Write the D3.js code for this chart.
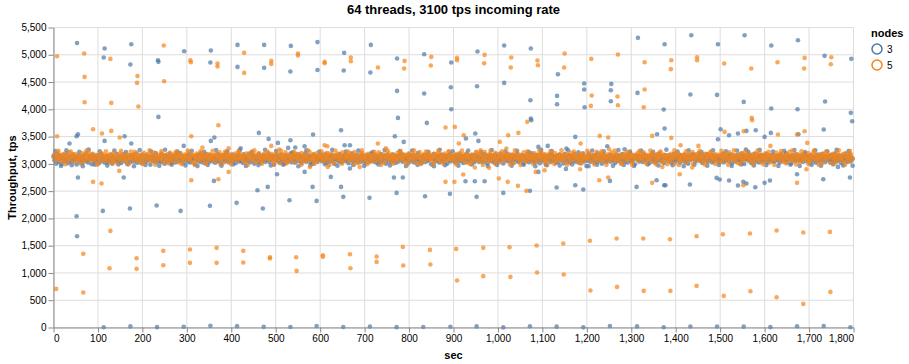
<!DOCTYPE html>
<html>
<head>
<meta charset="utf-8">
<script src="https://cdn.jsdelivr.net/npm/d3@7"></script>
<style>
  body { margin: 0; background: #fff; }
  text { font-family: "Liberation Sans", Arial, Helvetica, sans-serif; }
</style>
</head>
<body>
<div id="vis"></div>
<script>
const chartTitle = "64 threads, 3100 tps incoming rate";
const xTitle = "sec";
const yTitle = "Throughput, tps";
const legendTitle = "nodes";
const nodeNames = ["3", "5"];
const nodeColors = ["#4c78a8", "#f58518"];
const xTickValues = [0, 100, 200, 300, 400, 500, 600, 700, 800, 900, 1000, 1100, 1200, 1300, 1400, 1500, 1600, 1700, 1800];
const yTickValues = [0, 500, 1000, 1500, 2000, 2500, 3000, 3500, 4000, 4500, 5000, 5500];

// the dense band, one reading every 2 sec
const bandStep = 2;
const blueBand = [
  3142,3065,3118,3004,3176,3091,3037,3152,3110,2998,3083,3167,3049,3125,3071,3189,3012,3098,3140,3056,3117,3033,3174,3088,3061,3129,2987,3106,3158,3044,
  3092,3131,3018,3075,3163,3109,3052,3197,3068,3027,3146,3085,3114,2993,3172,3059,3101,3136,3040,3087,3155,3011,3123,3079,3183,3047,3096,3138,3020,3066,
  3150,3083,3029,3119,3071,3168,3005,3104,3134,3058,3092,3186,3038,3127,3063,3147,3015,3080,3112,3175,3049,3099,3136,2996,3073,3157,3031,3115,3088,3162,
  3045,3128,3076,3191,3022,3107,3061,3143,3097,3009,3171,3054,3132,3082,3039,3166,3101,3068,3124,2985,3093,3155,3047,3118,3077,3196,3028,3139,3086,3057,
  3113,3034,3178,3069,3126,3001,3152,3090,3043,3137,3074,3185,3018,3109,3063,3148,3096,3027,3169,3081,3120,3052,3193,3066,3103,3145,3010,3084,3131,3072,
  3159,3041,3099,3178,3024,3116,3067,3140,3089,2992,3133,3076,3162,3048,3105,3188,3035,3121,3070,3149,3012,3094,3173,3058,3111,3037,3164,3083,3127,3050,
  3087,3146,3021,3108,3069,3181,3044,3125,3097,3006,3158,3073,3134,3051,3199,3080,3116,3029,3143,3062,3100,3170,3039,3085,3153,3014,3122,3077,3166,3046,
  3135,3058,3104,3019,3174,3091,3133,3046,3117,3070,3189,3028,3098,3144,3063,3157,3003,3112,3079,3131,3053,3180,3093,3025,3139,3072,3110,3168,3041,3096,
  3064,3127,3183,3035,3101,3154,3072,3119,2989,3145,3082,3166,3047,3106,3131,3021,3177,3090,3056,3124,3008,3162,3075,3113,3049,3141,3087,3195,3031,3118,
  3160,3078,3026,3137,3092,3177,3054,3108,3149,3017,3085,3128,3066,3190,3043,3102,3159,3073,3119,3033,3147,3089,3005,3171,3061,3126,3097,3040,3153,3080,
  3108,3169,3049,3095,3134,3063,3186,3022,3116,3077,3142,3037,3101,3164,3058,3129,2997,3088,3155,3071,3120,3045,3179,3093,3030,3138,3067,3110,3172,3052,
  3083,3124,3013,3150,3071,3107,3192,3047,3132,3061,3098,3167,3025,3114,3079,3145,3038,3170,3091,3056,3127,3009,3103,3158,3068,3135,3042,3187,3075,3119,
  3046,3161,3095,3027,3141,3080,3115,3057,3178,3034,3100,3148,3069,3123,3002,3165,3086,3050,3137,3110,3031,3173,3064,3097,3152,3019,3128,3083,3044,3157,
  3129,3070,3182,3041,3109,3153,3062,3096,3136,3015,3175,3081,3119,3048,3160,3093,3027,3144,3074,3105,3196,3053,3126,3067,3011,3139,3090,3164,3037,3101,
  3167,3052,3114,3078,3143,2995,3121,3088,3185,3043,3106,3058,3149,3130,3024,3092,3171,3065,3112,3039,3156,3084,3127,3005,3142,3073,3178,3049,3098,3134,
  3071,3139,3028,3163,3087,3120,3045,3174,3099,3059,3133,3016,3108,3152,3076,3191,3034,3117,3082,3146,3055,3102,3168,3029,3124,3093,3061,3157,3110,3040,
  3118,3084,3155,3035,3097,3181,3066,3128,3012,3147,3075,3104,3162,3050,3139,3089,3023,3176,3060,3113,3136,3046,3094,3187,3072,3121,3008,3150,3081,3127,
  3055,3172,3101,3043,3130,3078,3164,3020,3111,3090,3148,3063,3184,3037,3096,3125,3070,3158,3004,3142,3085,3117,3051,3169,3099,3032,3135,3074,3193,3062,
  3144,3026,3107,3166,3059,3133,3091,3013,3178,3080,3121,3047,3153,3105,2990,3138,3068,3112,3175,3041,3098,3161,3056,3129,3083,3017,3147,3100,3035,3170,
  3093,3148,3064,3120,3007,3185,3076,3132,3048,3110,3163,3028,3141,3085,3117,3053,3179,3095,3039,3126,3071,3154,3014,3103,3137,3060,3188,3042,3115,3081,
  3125,3057,3176,3091,3038,3143,3106,3068,3159,3021,3130,3087,3194,3049,3112,3074,3151,3001,3099,3165,3062,3121,3034,3140,3078,3107,3173,3045,3134,3090,
  3066,3137,3019,3102,3168,3055,3123,3086,3146,3030,3178,3071,3113,3040,3157,3097,3026,3132,3081,3190,3050,3118,3069,3144,2994,3109,3161,3077,3128,3043,
  3152,3089,3126,3037,3181,3072,3104,3150,3061,3119,3010,3139,3092,3170,3045,3127,3083,3156,3032,3114,3067,3185,3098,3053,3142,3079,3120,3015,3163,3101,
  3079,3118,3052,3160,3094,3027,3138,3075,3186,3046,3108,3133,3064,3099,3172,3023,3147,3088,3115,3058,3169,3036,3124,3091,3003,3153,3070,3136,3086,3177,
  3105,3164,3044,3129,3070,3115,3192,3056,3141,3081,3018,3158,3097,3131,3062,3182,3039,3110,3075,3149,3094,3028,3166,3051,3122,3087,3145,3065,3106,3033,
  3140,3074,3108,3185,3031,3123,3060,3149,3089,3136,3047,3175,3103,3012,3157,3079,3128,3042,3113,3167,3068,3095,3138,3054,3188,3076,3119,2999,3151,3084,
  3097,3131,3058,3172,3084,3016,3143,3107,3069,3189,3040,3121,3093,3155,3027,3134,3080,3163,3046,3101,3139,3063,3180,3090,3035,3126,3072,3158,3111,3049,
  3163,3042,3117,3085,3150,3066,3129,3024,3176,3098,3057,3140,3111,3073,3193,3036,3103,3147,3083,3122,3009,3160,3069,3131,3094,3052,3174,3088,3118,3061,
  3076,3154,3093,3038,3138,3112,3181,3051,3125,3087,3145,3014,3167,3079,3106,3054,3136,3096,3020,3171,3065,3115,3152,3041,3100,3184,3072,3127,3033,3144,
  3112,3067,3149,3096,3029,3164,3081,3121,3055,3187,3104,3043,3133,3071,3158,3090,3015,3142,3077,3119,3060,3178,3099,3037,3130,3086,3168,3048,3109,3095
];
const orangeBand = [
  3128,3175,3062,3141,3097,3203,3083,3156,3110,3040,3169,3121,3074,3188,3134,3052,3149,3098,3215,3079,3126,3163,3031,3145,3104,3182,3067,3137,3092,3158,
  3115,3057,3196,3131,3086,3170,3046,3123,3161,3100,3210,3072,3142,3108,3185,3059,3130,3093,3166,3024,3152,3117,3078,3199,3136,3065,3173,3111,3044,3147,
  3089,3160,3120,3035,3178,3102,3143,3069,3207,3125,3081,3154,3012,3139,3097,3191,3061,3127,3168,3085,3118,3048,3181,3133,3075,3157,3106,3224,3091,3140,
  3172,3049,3136,3099,3186,3066,3150,3113,3028,3164,3087,3129,3201,3058,3145,3107,3176,3080,3122,3038,3159,3095,3213,3071,3131,3184,3052,3116,3167,3082,
  3103,3192,3077,3146,3019,3162,3121,3090,3179,3055,3135,3209,3068,3114,3153,3043,3187,3101,3138,3073,3170,3027,3124,3196,3084,3149,3112,3061,3175,3129,
  3148,3081,3217,3106,3064,3137,3174,3033,3155,3119,3092,3189,3050,3132,3165,3076,3123,3204,3087,3143,3015,3160,3109,3181,3057,3127,3096,3171,3139,3070,
  3119,3163,3045,3183,3126,3088,3151,3210,3074,3137,3103,3168,3029,3147,3092,3195,3118,3060,3174,3133,3081,3157,3046,3122,3190,3099,3141,3067,3206,3113,
  3177,3094,3131,3056,3166,3114,3039,3188,3140,3078,3125,3161,3097,3219,3063,3148,3107,3173,3022,3136,3089,3198,3117,3053,3162,3130,3072,3184,3101,3145,
  3086,3144,3200,3071,3128,3097,3179,3048,3153,3116,3067,3192,3134,3082,3171,3010,3139,3105,3164,3058,3126,3212,3090,3146,3037,3169,3120,3077,3157,3111,
  3158,3026,3122,3185,3093,3140,3064,3172,3109,3199,3052,3133,3081,3166,3118,3041,3150,3095,3223,3070,3137,3101,3178,3062,3129,3087,3193,3046,3141,3107,
  3132,3178,3069,3115,3162,3038,3147,3091,3205,3127,3075,3183,3104,3056,3170,3121,3016,3154,3098,3138,3189,3066,3124,3161,3083,3214,3049,3135,3110,3174,
  3095,3151,3121,3047,3187,3102,3168,3079,3134,3218,3060,3145,3112,3027,3176,3088,3130,3197,3054,3142,3105,3167,3072,3123,3184,3036,3156,3093,3129,3063,
  3167,3109,3040,3173,3135,3083,3211,3124,3058,3149,3096,3180,3019,3137,3117,3164,3071,3193,3100,3144,3045,3128,3175,3086,3152,3113,3064,3203,3138,3077,
  3121,3186,3092,3149,3061,3128,3171,3033,3157,3104,3194,3076,3140,3115,3051,3183,3126,3089,3165,3012,3136,3108,3216,3068,3147,3097,3172,3043,3119,3159,
  3080,3139,3208,3114,3074,3164,3098,3145,3027,3179,3123,3066,3153,3201,3087,3130,3042,3168,3111,3075,3190,3134,3057,3160,3101,3222,3084,3143,3064,3126,
  3155,3072,3129,3181,3041,3148,3116,3197,3085,3136,3059,3174,3106,3141,3023,3187,3093,3152,3120,3065,3170,3039,3131,3099,3163,3081,3207,3118,3048,3177,
  3109,3166,3055,3138,3101,3219,3073,3150,3124,3034,3177,3090,3127,3162,3067,3144,3108,3202,3051,3133,3094,3181,3118,3029,3156,3114,3069,3186,3141,3085,
  3143,3097,3183,3062,3125,3157,3088,3173,3015,3132,3104,3196,3079,3148,3117,3054,3167,3131,3092,3210,3071,3139,3045,3160,3122,3083,3176,3106,3064,3150,
  3127,3192,3081,3154,3037,3119,3170,3096,3137,3212,3063,3146,3110,3178,3049,3129,3085,3164,3123,3031,3188,3102,3140,3075,3199,3113,3052,3158,3134,3091,
  3174,3059,3134,3112,3169,3076,3145,3021,3185,3122,3098,3160,3046,3205,3139,3087,3118,3175,3068,3151,3107,3026,3166,3130,3084,3193,3116,3061,3147,3101,
  3098,3145,3203,3070,3128,3180,3044,3137,3111,3166,3084,3220,3125,3057,3152,3100,3187,3073,3134,3041,3163,3119,3088,3176,3131,3050,3159,3106,3211,3079,
  3161,3117,3052,3188,3094,3142,3106,3063,3171,3130,3018,3156,3097,3183,3121,3067,3146,3204,3081,3127,3172,3035,3140,3103,3164,3091,3128,3195,3058,3135,
  3113,3178,3086,3130,3214,3047,3150,3123,3079,3167,3101,3138,3058,3192,3115,3162,3027,3144,3096,3181,3072,3124,3209,3087,3149,3031,3171,3120,3082,3156,
  3136,3065,3160,3101,3043,3184,3127,3092,3148,3008,3175,3113,3197,3069,3135,3082,3158,3118,3053,3169,3138,3094,3021,3155,3111,3187,3073,3142,3103,3215,
  3090,3152,3121,3177,3068,3139,3198,3056,3124,3163,3097,3033,3146,3185,3079,3120,3171,3044,3131,3206,3093,3157,3117,3062,3180,3127,3085,3166,3039,3143,
  3169,3108,3036,3145,3115,3190,3074,3161,3129,3085,3213,3050,3137,3099,3174,3126,3061,3152,3087,3133,3017,3182,3112,3142,3070,3199,3104,3054,3160,3122,
  3125,3184,3093,3060,3156,3119,3042,3178,3103,3141,3067,3170,3131,3088,3201,3045,3146,3113,3167,3078,3122,3194,3059,3136,3097,3163,3026,3150,3115,3081,
  3150,3073,3139,3208,3097,3126,3164,3055,3134,3189,3083,3118,3029,3158,3106,3176,3071,3143,3221,3090,3129,3048,3168,3108,3185,3064,3137,3099,3172,3034,
  3104,3161,3048,3123,3179,3086,3141,3112,3065,3196,3128,3037,3155,3094,3132,3210,3076,3163,3118,3052,3147,3101,3174,3083,3138,3015,3186,3125,3069,3153,
  3141,3095,3172,3136,3020,3158,3107,3186,3072,3130,3167,3091,3203,3057,3121,3148,3084,3115,3178,3040,3135,3196,3066,3127,3100,3159,3046,3182,3119,3088
];

// readings just outside the band core: [sec, tps]
const blueBandEdge = [
  [4,3235],[17,2962],[29,3248],[41,2975],[58,3221],[66,2958],[79,3262],[93,2983],[104,3229],[121,2968],[137,3244],[146,2990],
  [163,3217],[181,2955],[194,3251],[207,2979],[219,3232],[238,2964],[251,3258],[266,2986],[279,3226],[297,2971],[311,3240],
  [324,2959],[339,3219],[347,2981],[366,3255],[378,2966],[391,3230],[404,2988],[419,3247],[433,2961],[447,3223],[461,2977],
  [476,3260],[489,2969],[501,3236],[517,2984],[538,3214],[551,2957],[569,3249],[578,2973],[598,3228],[611,2992],[627,3256],
  [639,2965],[658,3225],[674,2980],[686,3243],[699,2960],[718,3218],[731,2987],[745,3253],[757,2970],[779,3233],[793,2963],
  [807,3246],[819,2982],[843,3222],[856,2958],[869,3259],[881,2976],[898,3231],[911,2967],[933,3244],[941,2989],[962,3216],
  [977,2961],[986,3252],[998,2978],[1017,3227],[1031,2966],[1043,3241],[1058,2985],[1069,3220],[1084,2956],[1097,3257],
  [1110,2974],[1121,3234],[1139,2968],[1158,3249],[1167,2990],[1181,3213],[1199,2959],[1212,3245],[1223,2983],[1238,3230],
  [1259,2964],[1271,3254],[1283,2979],[1297,3224],[1306,2962],[1322,3242],[1337,2987],[1349,3219],[1361,2970],[1379,3261],
  [1393,2975],[1404,3228],[1418,2958],[1429,3247],[1442,2984],[1458,3215],[1471,2966],[1484,3250],[1497,2980],[1513,3232],
  [1526,2961],[1538,3244],[1547,2988],[1563,3221],[1576,2969],[1589,3256],[1604,2977],[1619,3226],[1631,2963],[1644,3239],
  [1658,2985],[1667,3253],[1679,2960],[1691,3218],[1706,2982],[1714,3248],[1727,2967],[1741,3229],[1754,2991],[1762,3258],
  [1777,2972],[1789,3235],[1798,2965]
];
const orangeBandEdge = [
  [11,3238],[26,2994],[39,3227],[61,3001],[74,3244],[99,2986],[118,3231],[133,3005],[152,3240],[169,2990],[183,3222],[202,2998],
  [216,3249],[229,2983],[243,3234],[259,3007],[276,3225],[289,2992],[302,3246],[318,2979],[331,3230],[344,3003],[358,3241],
  [376,2988],[386,3224],[399,2996],[416,3236],[437,2981],[452,3248],[469,3000],[481,3226],[496,2987],[512,3239],[524,3006],
  [541,3221],[558,2984],[573,3245],[587,2997],[603,3232],[621,2980],[634,3243],[649,3004],[663,3228],[677,2989],[694,3247],
  [706,2993],[722,3223],[737,2978],[752,3240],[764,3002],[781,3233],[796,2985],[811,3250],[826,2995],[838,3226],[853,2982],
  [866,3242],[877,3008],[889,3229],[906,2987],[919,3245],[937,2999],[951,3222],[966,2981],[983,3238],[994,3004],[1009,3231],
  [1027,2990],[1038,3247],[1051,2977],[1066,3226],[1079,3001],[1093,3242],[1108,2986],[1118,3235],[1127,2996],[1143,3249],
  [1156,2983],[1171,3224],[1188,3005],[1201,3240],[1217,2989],[1233,3230],[1244,2979],[1263,3246],[1277,2998],[1291,3221],
  [1302,2984],[1318,3237],[1334,3007],[1343,3244],[1356,2988],[1366,3227],[1381,2994],[1397,3248],[1407,2980],[1423,3232],
  [1439,3002],[1454,3241],[1466,2985],[1479,3225],[1489,2997],[1503,3239],[1518,2982],[1531,3250],[1544,3003],[1557,3228],
  [1574,2987],[1584,3243],[1597,2991],[1609,3223],[1622,2978],[1637,3236],[1649,3006],[1662,3246],[1671,2989],[1683,3231],
  [1699,2995],[1711,3242],[1722,2981],[1738,3226],[1757,3004],[1767,3249],[1781,2986],[1792,3234]
];

// readings away from the band: [sec, tps]
const blueOutliers = [
  [53,5217],[115,5115],[113,4950],[175,5193],[173,4821],[235,4900],[236,4870],[236,3861],[294,5065],[354,5078],[353,4858],
  [414,5181],[414,4778],[474,5181],[474,4760],[534,5163],[533,4693],[594,5232],[594,4720],[654,5035],[653,4711],[714,5181],
  [713,4675],[773,4931],[773,4338],[775,3843],[834,5010],[834,4290],[895,4858],[894,4405],[895,4002],[954,5060],[953,4423],
  [1014,5170],[1014,4484],[1074,5115],[1073,4167],[1074,3831],[1135,4644],[1133,4246],[1133,4094],[1194,4473],[1194,4363],
  [1195,4039],[1255,4466],[1254,4350],[1254,4149],[1315,5310],[1375,5194],[1314,4301],[1373,3997],[1435,5359],[1495,5194],
  [1433,4271],[1493,4264],[1555,5359],[1553,4136],[1615,5170],[1675,5267],[1615,4015],[1674,4002],[1735,4980],[1795,4925],
  [1736,4143],[1794,3935],
  [55,3544],[52,3507],[55,2750],[52,2040],[53,1674],[36,3373],[115,3421],[111,2138],[160,3507],[158,2750],[175,3373],
  [172,2181],[232,2236],[293,3329],[286,2138],[354,3421],[362,3483],[361,2688],[352,2230],[412,2285],[421,3287],[462,3568],
  [459,2517],[471,2181],[484,3458],[482,2578],[505,3384],[503,2810],[533,3434],[531,2334],[544,3300],[528,3293],[565,2853],
  [584,3538],[583,2578],[592,2321],[565,3324],[647,3617],[655,3342],[667,3342],[624,2761],[647,2578],[652,2395],[667,2915],
  [711,2377],[768,3507],[788,3403],[766,2750],[786,2750],[772,2468],[840,3751],[836,2407],[892,2450],[928,3465],[949,3556],
  [956,3421],[927,2682],[948,2682],[970,2682],[952,2395],[1075,3800],[1012,2468],[1072,2505],[1091,2853],[1091,3311],
  [1112,3329],[1132,2567],[1153,2908],[1154,3282],[1174,3494],[1174,2609],[1192,2530],[1204,2957],[1246,3324],[1252,2688],
  [1375,3648],[1358,3544],[1285,3269],[1312,2578],[1357,2700],[1374,2609],[1377,2609],[1432,2621],[1501,3635],[1495,3452],
  [1520,3525],[1540,3556],[1559,3604],[1580,3617],[1492,2743],[1499,2713],[1520,2695],[1540,2603],[1552,2670],[1559,2640],
  [1579,2572],[1600,2652],[1612,2695],[1600,3494],[1614,3568],[1673,2810],[1676,3544],[1733,3630],[1732,2719],[1792,2750],
  [1797,3782],[1765,2944],[1558,3263],
  [113,4],[173,20],[233,6],[293,14],[353,30],[413,25],[473,12],[533,10],[592,28],[652,8],[712,18],[772,6],[832,10],[893,14],
  [952,20],[1012,2],[1072,22],[1132,16],[1192,3],[1252,26],[1313,20],[1373,4],[1433,18],[1493,18],[1553,16],[1613,6],
  [1673,24],[1733,28],[1793,4]
];
const orangeOutliers = [
  [8,4974],[69,5023],[70,4594],[70,4130],[128,4924],[130,4118],[189,4612],[188,4484],[191,4051],[248,5169],[249,4515],
  [308,4900],[309,4864],[369,4840],[369,4785],[429,5035],[429,4668],[490,4888],[490,4833],[550,5023],[550,4986],[610,4869],
  [610,4845],[669,4950],[669,4882],[730,4766],[790,4888],[789,4748],[850,4961],[849,4803],[908,4943],[908,4900],[970,4998],
  [969,4845],[1030,4950],[1029,4766],[1089,4895],[1090,4809],[1150,5023],[1149,4766],[1210,4924],[1211,4253],[1209,4063],
  [1270,5005],[1270,4075],[1269,4235],[1330,4864],[1390,4900],[1389,4736],[1448,4955],[1448,4900],[1509,4840],[1570,4748],
  [1629,4864],[1690,4943],[1689,4748],[1750,4955],[1749,4827],[1330,4363],[1328,4039],[1571,3843],
  [8,3507],[89,3635],[89,2670],[109,3556],[108,2640],[130,3604],[128,1771],[149,3483],[148,2871],[310,3507],[310,2700],
  [335,3300],[371,3709],[371,2719],[394,2853],[394,3287],[490,3329],[508,3263],[577,2944],[610,3342],[616,3324],[617,2944],
  [689,2944],[730,3373],[748,3287],[882,3666],[903,3678],[923,3525],[912,3373],[922,2805],[882,2670],[902,2670],[948,2933],
  [961,3250],[980,2927],[1004,3403],[1023,3525],[1046,3568],[1066,3770],[1002,2731],[1022,2670],[1045,2597],[1064,2505],
  [1019,3282],[1085,2853],[1105,2884],[1186,3373],[1185,2902],[1229,3513],[1248,3483],[1228,2700],[1248,2750],[1347,3513],
  [1390,3476],[1347,2652],[1370,2944],[1411,3342],[1409,2810],[1437,2933],[1451,3329],[1510,3586],[1553,3598],[1552,2609],
  [1572,3800],[1630,3538],[1613,3329],[1673,3538],[1690,3598],[1696,3384],[1673,2652],[1694,2902],[1250,3269],
  [6,708],[67,641],[67,1350],[126,1087],[187,1075],[187,1270],[247,1142],[247,1405],[307,1185],[307,1430],[367,1185],
  [367,1460],[427,1191],[427,1405],[487,1265],[487,1289],[546,1289],[547,1038],[606,1325],[606,1295],[667,1344],[668,1087],
  [727,1301],[727,1203],[786,1478],[787,1136],[847,1423],[848,1155],[906,1441],[908,861],[967,1460],[967,941],[1026,1472],
  [1028,928],[1087,1503],[1088,1008],[1147,1540],[1148,971],[1207,1590],[1208,678],[1267,1632],[1268,744],[1327,1632],
  [1328,671],[1387,1619],[1388,671],[1447,1674],[1447,763],[1506,1710],[1508,579],[1567,1723],[1568,665],[1627,1778],
  [1627,555],[1687,1741],[1687,433],[1747,1753],[1748,653]
];

const width = 909, height = 364;
const margin = { left: 53.5, top: 27.5 };
const plotW = 800, plotH = 300;

function toPoints(band, extra, nodes) {
  const pts = band.map((v, i) => ({ sec: i * bandStep, tps: v, nodes: nodes }));
  extra.forEach(d => pts.push({ sec: d[0], tps: d[1], nodes: nodes }));
  return pts;
}
const data = toPoints(blueBand, blueBandEdge.concat(blueOutliers), "3")
  .concat(toPoints(orangeBand, orangeBandEdge.concat(orangeOutliers), "5"));

const x = d3.scaleLinear().domain([0, 1800]).range([0, plotW]);
const y = d3.scaleLinear().domain([0, 5500]).range([plotH, 0]);
const color = d3.scaleOrdinal().domain(nodeNames).range(nodeColors);
const fmt = d3.format(",");

const svg = d3.select("#vis").append("svg")
  .attr("width", width)
  .attr("height", height);

const g = svg.append("g").attr("transform", `translate(${margin.left},${margin.top})`);

// grid
g.append("g").selectAll("line").data(xTickValues).join("line")
  .attr("x1", d => x(d)).attr("x2", d => x(d))
  .attr("y1", 0).attr("y2", plotH)
  .attr("stroke", "#ddd");
g.append("g").selectAll("line").data(yTickValues).join("line")
  .attr("x1", 0).attr("x2", plotW)
  .attr("y1", d => y(d)).attr("y2", d => y(d))
  .attr("stroke", "#ddd");

// points
g.append("g").selectAll("circle").data(data).join("circle")
  .attr("cx", d => x(d.sec))
  .attr("cy", d => y(d.tps))
  .attr("r", 2.3)
  .attr("fill", d => color(d.nodes))
  .attr("fill-opacity", 0.7);

// axes
const xAxis = g.append("g")
  .attr("transform", `translate(0,${plotH})`)
  .call(d3.axisBottom(x).tickValues(xTickValues).tickFormat(fmt).tickSize(5).tickPadding(2).tickSizeOuter(0));
xAxis.selectAll("text")
  .attr("text-anchor", (d, i) => i === 0 ? "start" : (i === xTickValues.length - 1 ? "end" : "middle"));

const yAxis = g.append("g")
  .call(d3.axisLeft(y).tickValues(yTickValues).tickFormat(fmt).tickSize(5).tickPadding(2).tickSizeOuter(0));

[xAxis, yAxis].forEach(a => {
  a.select(".domain").attr("stroke", "#888");
  a.selectAll(".tick line").attr("stroke", "#888");
  a.selectAll("text").attr("font-size", 10).attr("fill", "#000")
    .attr("font-family", "'Liberation Sans', Arial, sans-serif");
});

// axis titles
g.append("text")
  .attr("x", plotW / 2).attr("y", plotH + 31)
  .attr("text-anchor", "middle")
  .attr("font-size", 11).attr("font-weight", "bold")
  .text(xTitle);
svg.append("text")
  .attr("transform", `translate(16,${margin.top + plotH / 2}) rotate(-90)`)
  .attr("text-anchor", "middle")
  .attr("font-size", 11).attr("font-weight", "bold")
  .text(yTitle);

// chart title
svg.append("text")
  .attr("x", margin.left + plotW / 2).attr("y", 14)
  .attr("text-anchor", "middle")
  .attr("font-size", 13).attr("font-weight", "bold")
  .text(chartTitle);

// legend
const legend = svg.append("g").attr("transform", "translate(871,27.5)");
legend.append("text")
  .attr("x", 0).attr("y", 9)
  .attr("font-size", 11).attr("font-weight", "bold")
  .text(legendTitle);
const items = legend.selectAll("g.item").data(nodeNames).join("g")
  .attr("class", "item")
  .attr("transform", (d, i) => `translate(0,${21.5 + i * 16})`);
items.append("circle")
  .attr("cx", 6).attr("cy", 0).attr("r", 5)
  .attr("fill", "none")
  .attr("stroke", d => color(d))
  .attr("stroke-width", 1.5);
items.append("text")
  .attr("x", 16).attr("y", 3.5)
  .attr("font-size", 10)
  .text(d => d);
</script>
</body>
</html>
